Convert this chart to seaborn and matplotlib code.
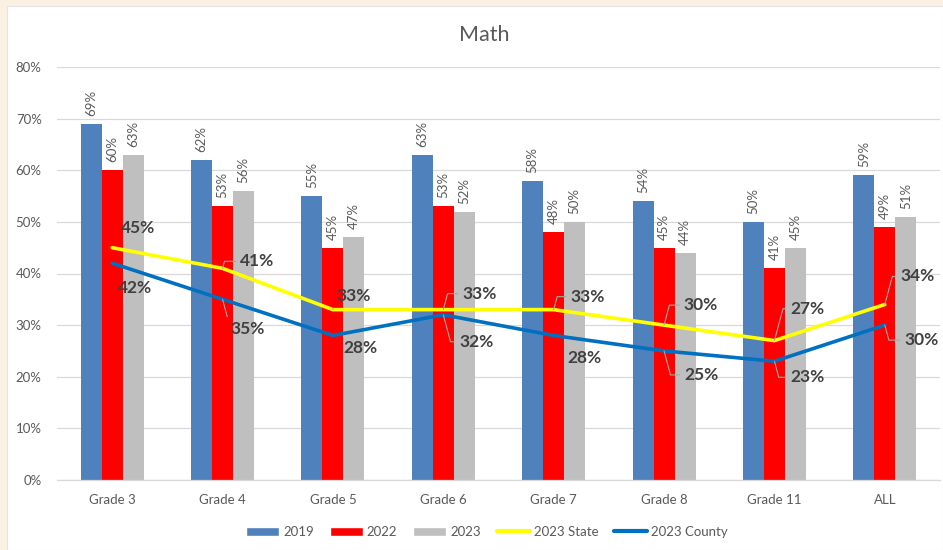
import numpy as np
import pandas as pd
import matplotlib
matplotlib.use("Agg")
import matplotlib.pyplot as plt
from matplotlib.patches import Rectangle, Patch
from matplotlib.lines import Line2D
from matplotlib.ticker import FuncFormatter, MultipleLocator, FixedLocator
import seaborn as sns

# ---- data ----
grades = ["Grade 3", "Grade 4", "Grade 5", "Grade 6", "Grade 7", "Grade 8", "Grade 11", "ALL"]
years = ["2019", "2022", "2023"]
pct_2019 = [69, 62, 55, 63, 58, 54, 50, 59]
pct_2022 = [60, 53, 45, 53, 48, 45, 41, 49]
pct_2023 = [63, 56, 47, 52, 50, 44, 45, 51]
state_2023 = [45, 41, 33, 33, 33, 30, 27, 34]
county_2023 = [42, 35, 28, 32, 28, 25, 23, 30]

# ---- styling ----
bar_colors = {"2019": "#4F81BD", "2022": "#FF0000", "2023": "#BFBFBF"}
state_color = "#FFFF00"
county_color = "#0070C0"
text_gray = "#595959"
label_dark = "#404040"
grid_gray = "#D9D9D9"
leader_gray = "#A6A6A6"

# label offsets in pixels (dx right, dy down) and whether a leader line is drawn
state_offsets = [(26, -20), (35, -7), (21, -14), (36, -16), (34, -13), (37, -20), (33, -32), (33, -28)]
state_leader = [False, True, True, True, True, True, True, True]
county_offsets = [(23, 25), (25, 30), (27, 13), (33, 27), (31, 23), (37, 24), (33, 16), (37, 15)]
county_leader = [False, True, False, True, False, True, True, True]

sns.set_theme(style="white")
plt.rcParams["font.family"] = ["Lato", "DejaVu Sans"]

df = pd.DataFrame({
    "Grade": np.repeat(grades, 3),
    "Year": years * len(grades),
    "Pct": np.ravel(np.column_stack([pct_2019, pct_2022, pct_2023])),
})

fig = plt.figure(figsize=(9.43, 5.5), dpi=100)
fig.patch.set_facecolor("#FBF1E3")
W, H = 943, 550
fig.patches.append(Rectangle((7 / W, 0), 1 - 7 / W, 1 - 6 / H, transform=fig.transFigure,
                             facecolor="white", edgecolor="#E4E4E4", linewidth=0.8, zorder=-10))

ax = fig.add_axes([57 / W, 1 - 480 / H, (940 - 57) / W, (480 - 67) / H])
ax.set_zorder(1)
ax.set_facecolor("none")

sns.barplot(data=df, x="Grade", y="Pct", hue="Year", order=grades, hue_order=years,
            palette=bar_colors, saturation=1, width=0.57, linewidth=0, ax=ax,
            legend=False, zorder=2)

x = np.arange(len(grades))
sns.lineplot(x=x, y=state_2023, color=state_color, linewidth=2.6, ax=ax, zorder=4)
sns.lineplot(x=x, y=county_2023, color=county_color, linewidth=2.6, ax=ax, zorder=4)

# rotated value labels on the bars
for cont in ax.containers:
    for rect in cont:
        h = rect.get_height()
        ax.annotate(f"{h:.0f}%", (rect.get_x() + rect.get_width() / 2, h),
                    xytext=(0, 8), textcoords="offset pixels", rotation=90,
                    ha="center", va="bottom", fontsize=9.5, color=text_gray, zorder=5)

def line_labels(values, offsets, leaders):
    for xi, v, (dx, dy), lead in zip(x, values, offsets, leaders):
        arrow = None
        if lead:
            slant = 75 if dy < 0 else 105
            arrow = dict(arrowstyle="-", color=leader_gray, lw=0.8, shrinkA=1, shrinkB=0,
                         relpos=(0, 0.5),
                         connectionstyle=f"angle,angleA=0,angleB={slant},rad=0")
        ax.annotate(f"{v}%", (xi, v), xytext=(dx, -dy), textcoords="offset pixels",
                    ha="center", va="center", fontsize=12.5, fontweight="bold",
                    color=label_dark, arrowprops=arrow, zorder=6)

line_labels(state_2023, state_offsets, state_leader)
line_labels(county_2023, county_offsets, county_leader)

# axes
ax.set_xlim(-0.5, len(grades) - 0.5)
ax.set_ylim(0, 80)
ax.yaxis.set_major_locator(MultipleLocator(10))
ax.yaxis.set_major_formatter(FuncFormatter(lambda v, p: f"{v:.0f}%"))
ax.grid(axis="y", color=grid_gray, linewidth=0.9, zorder=0)
ax.set_axisbelow(True)
ax.set_xlabel("")
ax.set_ylabel("")
for s in ["left", "right", "top"]:
    ax.spines[s].set_visible(False)
ax.spines["bottom"].set_color(grid_gray)
ax.spines["bottom"].set_linewidth(0.9)
ax.tick_params(axis="y", length=0, labelsize=9.5, labelcolor=text_gray, pad=11)
ax.tick_params(axis="x", which="major", length=0, labelsize=9.5, labelcolor=text_gray, pad=10)
ax.xaxis.set_minor_locator(FixedLocator(np.arange(-0.5, len(grades), 1.0)))
ax.tick_params(axis="x", which="minor", length=5, color=grid_gray, width=0.9, direction="out")

fig.text(484 / W, 1 - 35 / H, "Math", ha="center", va="center",
         fontsize=15.5, color=text_gray)

handles = [Patch(facecolor=bar_colors[y], label=y) for y in years] + [
    Line2D([0], [0], color=state_color, lw=3, label="2023 State"),
    Line2D([0], [0], color=county_color, lw=3, label="2023 County"),
]
leg = fig.legend(handles=handles, loc="center", bbox_to_anchor=(487 / W, 1 - 532 / H), ncol=5,
                 frameon=False, fontsize=9.5, handlelength=2.5, handleheight=0.7,
                 handletextpad=0.3, columnspacing=1.2)
for t in leg.get_texts():
    t.set_color(text_gray)

fig.savefig("out.png", dpi=100, facecolor=fig.get_facecolor())
